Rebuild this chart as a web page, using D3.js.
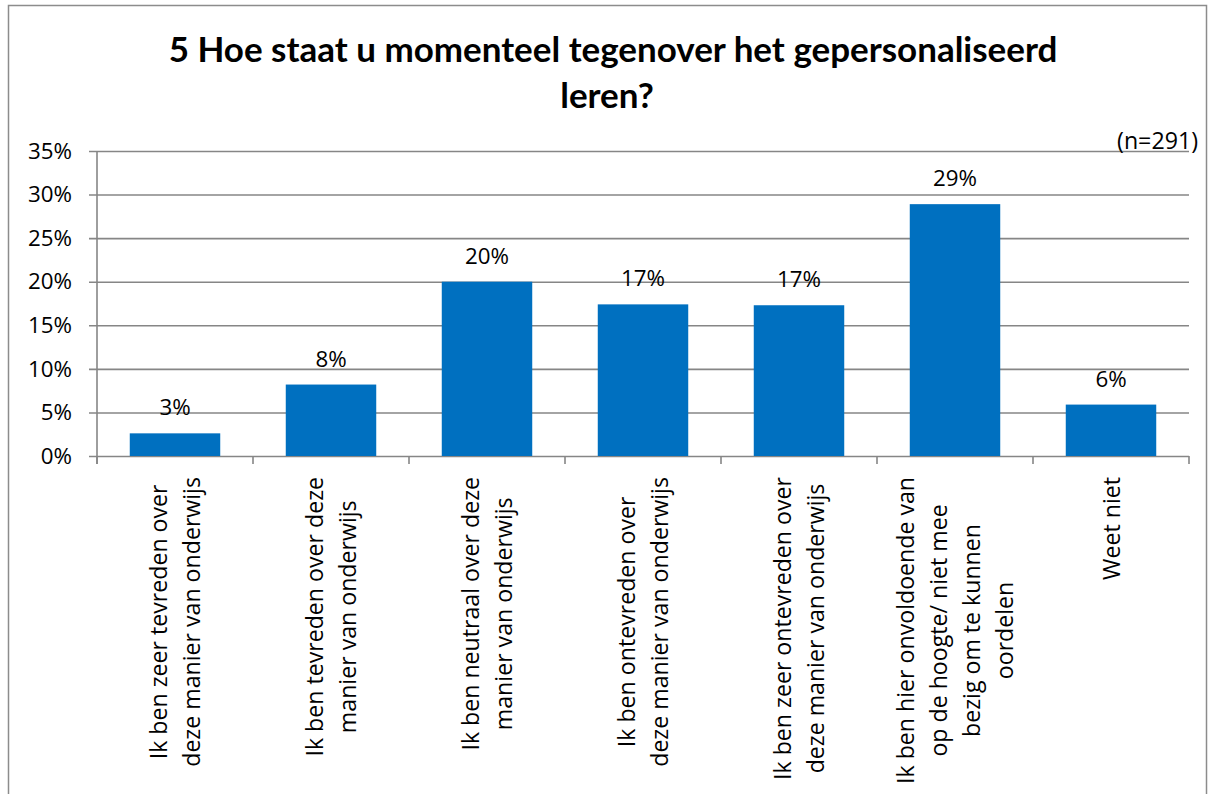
<!DOCTYPE html>
<html>
<head>
<meta charset="utf-8">
<script src="https://cdn.jsdelivr.net/npm/d3@7"></script>
<style>
  html, body { margin: 0; padding: 0; background: #fff; }
  svg { display: block; }
</style>
</head>
<body>
<svg id="chart" width="1214" height="794"></svg>
<script>
// ---- data ----
const titleLines = ["5 Hoe staat u momenteel tegenover het gepersonaliseerd", "leren?"];
const sampleNote = "(n=291)";
const categories = [
  ["Ik ben zeer tevreden over", "deze manier van onderwijs"],
  ["Ik ben tevreden over deze", "manier van onderwijs"],
  ["Ik ben neutraal over deze", "manier van onderwijs"],
  ["Ik ben ontevreden over", "deze manier van onderwijs"],
  ["Ik ben zeer ontevreden over", "deze manier van onderwijs"],
  ["Ik ben hier onvoldoende van", "op de hoogte/ niet mee", "bezig om te kunnen", "oordelen"],
  ["Weet niet"]
];
const values = [0.026, 0.082, 0.200, 0.174, 0.173, 0.289, 0.059];
const yTicks = [0, 0.05, 0.10, 0.15, 0.20, 0.25, 0.30, 0.35];

// ---- layout ----
const plot = { left: 97, right: 1189, top: 151, bottom: 456 };
const fontFam = "'Open Sans', 'DejaVu Sans', sans-serif";
const gridColor = "#868686";
const barColor = "#0070C0";

const svg = d3.select("#chart");

// size a font so that a sample string has a target width
function fitSize(family, weight, sample, target) {
  const t = svg.append("text").attr("font-family", family).attr("font-weight", weight)
    .attr("font-size", 20).text(sample);
  const l = t.node().getComputedTextLength();
  t.remove();
  return 20 * target / l;
}
const catSize = fitSize(fontFam, "normal", "deze manier van onderwijs", 290);
const numSize = fitSize(fontFam, "normal", "20%", 44);
const noteSize = fitSize(fontFam, "normal", sampleNote, 81);

// outer border
svg.append("rect")
  .attr("x", 8.5).attr("y", 5.5).attr("width", 1198).attr("height", 800)
  .attr("fill", "#fff").attr("stroke", "#8c8c8c").attr("stroke-width", 1.5);

const keys = categories.map((c, i) => i);
const x = d3.scaleBand().domain(keys).range([plot.left, plot.right])
  .paddingInner(0.42).paddingOuter(0.21);
const xEdges = d3.scaleBand().domain(keys).range([plot.left, plot.right]).padding(0);
const y = d3.scaleLinear().domain([0, 0.35]).range([plot.bottom, plot.top]);
const pct = d3.format(".0%");

// gridlines + y axis
const yAxis = d3.axisLeft(y).tickValues(yTicks).tickFormat(pct)
  .tickSize(-(plot.right - plot.left)).tickPadding(17);
const gy = svg.append("g").attr("transform", `translate(${plot.left},0)`).call(yAxis);
gy.select(".domain").remove();
gy.selectAll(".tick line").attr("stroke", gridColor).attr("stroke-width", 1.6)
  .attr("x1", -8);
gy.selectAll(".tick text").attr("font-family", fontFam).attr("font-size", numSize)
  .attr("fill", "#000").attr("x", -25);
// y axis line
svg.append("line").attr("x1", plot.left).attr("x2", plot.left)
  .attr("y1", y(0.35)).attr("y2", y(0) + 8)
  .attr("stroke", gridColor).attr("stroke-width", 1.6);

// x axis ticks at category edges
const edges = keys.map(k => xEdges(k)).concat([plot.right]);
svg.append("g").selectAll("line").data(edges).join("line")
  .attr("x1", d => d).attr("x2", d => d)
  .attr("y1", y(0)).attr("y2", y(0) + 8)
  .attr("stroke", gridColor).attr("stroke-width", 1.6);

// bars
svg.append("g").selectAll("rect").data(values).join("rect")
  .attr("x", (d, i) => x(i)).attr("width", x.bandwidth())
  .attr("y", d => y(d)).attr("height", d => y(0) - y(d))
  .attr("fill", barColor);

// data labels
svg.append("g").selectAll("text").data(values).join("text")
  .attr("x", (d, i) => x(i) + x.bandwidth() / 2)
  .attr("y", d => y(d) - 18)
  .attr("text-anchor", "middle")
  .attr("font-family", fontFam).attr("font-size", numSize).attr("fill", "#000")
  .text(d => pct(d));

// category labels (rotated, centered lines)
const lineGap = 33;
const labelTop = 477;
categories.forEach((lines, i) => {
  const cx = x(i) + x.bandwidth() / 2;
  const g = svg.append("g");
  const texts = g.selectAll("text").data(lines).join("text")
    .attr("font-family", fontFam).attr("font-size", catSize).attr("fill", "#000")
    .attr("text-anchor", "middle")
    .text(d => d);
  let maxLen = 0;
  texts.each(function() { maxLen = Math.max(maxLen, this.getComputedTextLength()); });
  const cy = labelTop + maxLen / 2;
  const n = lines.length;
  texts.attr("transform", (d, j) => {
    const bx = cx + (j - (n - 1) / 2) * lineGap + 8.5;
    return `translate(${bx},${cy}) rotate(-90)`;
  });
});

// title
const titleFam = "Lato, 'Open Sans', sans-serif";
const tSize = fitSize(titleFam, "bold", titleLines[0], 889);
const title = svg.append("g");
title.append("text").attr("x", 613).attr("y", 62)
  .attr("text-anchor", "middle").attr("font-family", titleFam)
  .attr("font-weight", "bold").attr("font-size", tSize).attr("fill", "#000")
  .text(titleLines[0]);
title.append("text").attr("x", 607).attr("y", 108)
  .attr("text-anchor", "middle").attr("font-family", titleFam)
  .attr("font-weight", "bold").attr("font-size", tSize).attr("fill", "#000")
  .text(titleLines[1]);

// sample note
svg.append("text").attr("x", 1198).attr("y", 149).attr("text-anchor", "end")
  .attr("font-family", fontFam).attr("font-size", noteSize).attr("fill", "#000")
  .text(sampleNote);
</script>
</body>
</html>
